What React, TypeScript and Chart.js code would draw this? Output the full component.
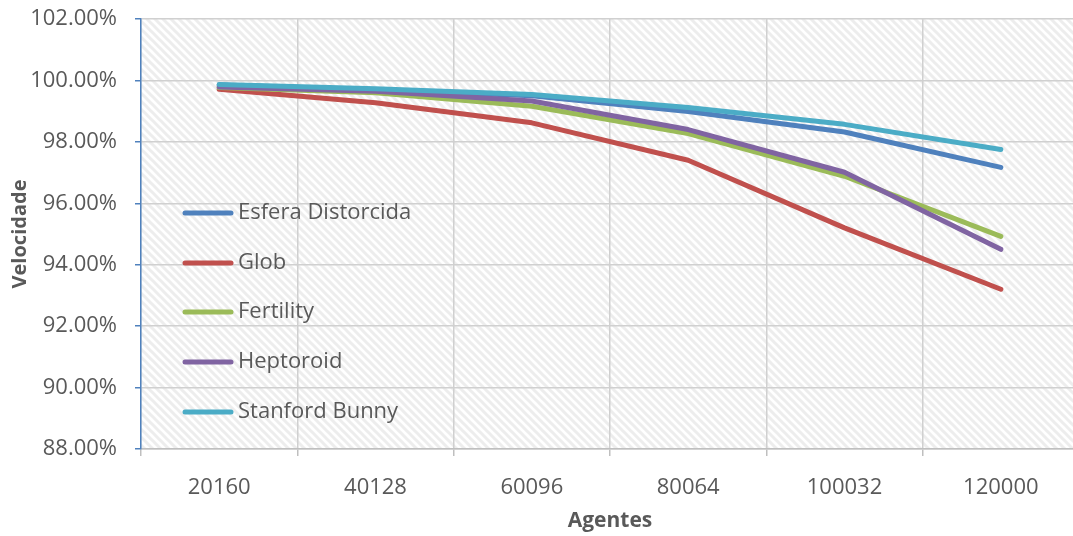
import React, { useEffect, useRef } from "react";
import { Chart, registerables } from "chart.js";

Chart.register(...registerables);

const categories = ["20160", "40128", "60096", "80064", "100032", "120000"];
const seriesNames = ["Esfera Distorcida", "Glob", "Fertility", "Heptoroid", "Stanford Bunny"];
const esfera = [99.85, 99.7, 99.5, 98.99, 98.32, 97.17];
const glob = [99.71, 99.27, 98.62, 97.4, 95.2, 93.2];
const fertility = [99.77, 99.6, 99.16, 98.27, 96.88, 94.92];
const heptoroid = [99.79, 99.65, 99.33, 98.4, 97.01, 94.5];
const bunny = [99.87, 99.73, 99.54, 99.12, 98.57, 97.75];
const seriesColors = ["#4F81BD", "#C0504D", "#9BBB59", "#8064A2", "#4BACC6"];
const yTicks = [88, 90, 92, 94, 96, 98, 100, 102];

const FONT = "'Open Sans', 'Noto Sans', sans-serif";
const TEXT = "#595959";

function makePattern(): CanvasPattern | string {
  const c = document.createElement("canvas");
  c.width = 8;
  c.height = 8;
  const g = c.getContext("2d");
  if (!g) return "#fff";
  g.fillStyle = "#ffffff";
  g.fillRect(0, 0, 8, 8);
  g.strokeStyle = "#EDEDED";
  g.lineWidth = 3;
  g.beginPath();
  g.moveTo(-2, -2);
  g.lineTo(10, 10);
  g.moveTo(-10, -2);
  g.lineTo(2, 10);
  g.moveTo(6, -2);
  g.lineTo(18, 10);
  g.stroke();
  const ctx = document.createElement("canvas").getContext("2d");
  return ctx ? (ctx.createPattern(c, "repeat") as CanvasPattern) : "#fff";
}

const hatchPlugin = {
  id: "hatch",
  beforeDraw(chart: any) {
    const { ctx, chartArea } = chart;
    ctx.save();
    ctx.fillStyle = makePattern();
    ctx.fillRect(chartArea.left, chartArea.top, chartArea.right - chartArea.left, chartArea.bottom - chartArea.top);
    ctx.restore();
  },
};

const legendPlugin = {
  id: "insideLegend",
  afterDatasetsDraw(chart: any) {
    const { ctx } = chart;
    const rows = [213, 263, 312, 362, 412];
    ctx.save();
    chart.data.datasets.forEach((ds: any, i: number) => {
      const y = rows[i];
      ctx.strokeStyle = ds.borderColor;
      ctx.lineWidth = 5;
      ctx.lineCap = "round";
      ctx.beginPath();
      ctx.moveTo(185, y);
      ctx.lineTo(231, y);
      ctx.stroke();
      ctx.fillStyle = TEXT;
      ctx.font = `22px ${FONT}`;
      ctx.textBaseline = "middle";
      ctx.textAlign = "left";
      ctx.fillText(ds.label, 238, y);
    });
    ctx.restore();
  },
};

export default function App() {
  const ref = useRef<HTMLCanvasElement>(null);
  useEffect(() => {
    if (!ref.current) return;
    const data = [esfera, glob, fertility, heptoroid, bunny];
    const chart = new Chart(ref.current, {
      type: "line",
      data: {
        labels: categories,
        datasets: seriesNames.map((name, i) => ({
          label: name,
          data: data[i],
          borderColor: seriesColors[i],
          backgroundColor: seriesColors[i],
          borderWidth: 5,
          borderCapStyle: "round",
          borderJoinStyle: "round",
          pointRadius: 0,
          tension: 0,
          fill: false,
          order: 5 - i,
        })),
      },
      options: {
        animation: false,
        responsive: false,
        maintainAspectRatio: false,
        layout: { padding: { left: 0, right: 1, top: 19, bottom: 0 } },
        plugins: { legend: { display: false }, tooltip: { enabled: false } },
        scales: {
          x: {
            type: "category",
            offset: true,
            grid: {
              offset: true,
              color: "#D0D0D0",
              lineWidth: 1.5,
              tickLength: 7,
              tickColor: "#BFBFBF",
            },
            border: { color: "#BFBFBF", width: 1.5 },
            ticks: { color: TEXT, font: { family: FONT, size: 22 }, padding: 19 },
            title: {
              display: true,
              text: "Agentes",
              color: TEXT,
              font: { family: FONT, size: 21, weight: "bold" },
              padding: { top: 2, bottom: 2 },
            },
            afterFit(scale: any) {
              scale.height = 87;
              scale.paddingLeft = 0;
              scale.paddingRight = 0;
            },
          },
          y: {
            min: 88,
            max: 102,
            afterBuildTicks(scale: any) {
              scale.ticks = yTicks.map((v) => ({ value: v }));
            },
            grid: {
              color: "#D0D0D0",
              lineWidth: 1.5,
              tickLength: 6,
              tickColor: "#4F81BD",
            },
            border: { color: "#4F81BD", width: 1.5 },
            ticks: {
              color: TEXT,
              font: { family: FONT, size: 22 },
              padding: 18,
              callback: (v: any) => Number(v).toFixed(2) + "%",
            },
            title: {
              display: true,
              text: "Velocidade",
              color: TEXT,
              font: { family: FONT, size: 20, weight: "bold" },
              padding: { top: 8, bottom: 0 },
            },
            afterFit(scale: any) {
              scale.width = 141;
              scale.paddingTop = 0;
              scale.paddingBottom = 0;
            },
          },
        },
      },
      plugins: [hatchPlugin, legendPlugin],
    });
    return () => chart.destroy();
  }, []);
  return (
    <div style={{ position: "fixed", left: 0, top: 0, width: 1073, height: 536, overflow: "hidden", background: "#fff" }}>
      <canvas ref={ref} width={1080} height={536} style={{ display: "block" }} />
    </div>
  );
}
